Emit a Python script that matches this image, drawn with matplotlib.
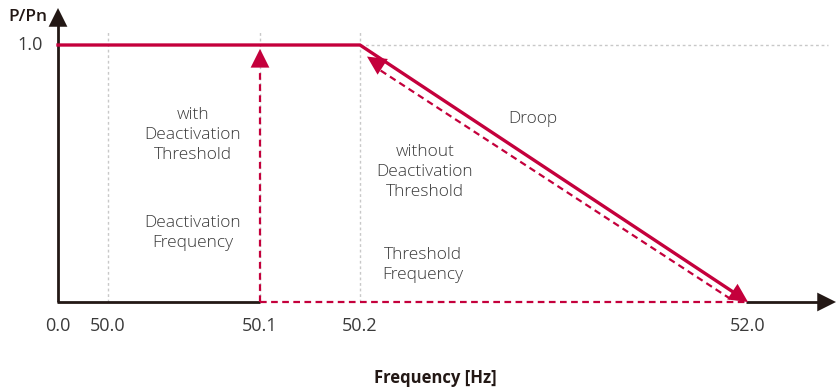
import matplotlib.pyplot as plt
import numpy as np

# frequency ticks (axis is not to scale, so each tick gets a layout slot)
freq_ticks = [0.0, 50.0, 50.1, 50.2, 52.0]
tick_labels = ['0.0', '50.0', '50.1', '50.2', '52.0']
tick_slots = [0.0, 1.0, 4.04, 6.04, 13.8]

# power curve P/Pn vs frequency
curve_freq = [0.0, 50.2, 52.0]
curve_p = [1.0, 1.0, 0.0]

deact_freq = 50.1
threshold_freq = 50.2
end_freq = 52.0

RED = '#C4003C'
TXT = '#3a3a3a'
GRID = '#c8c8c8'
BLK = '#231815'

plt.rcParams['font.family'] = ['Open Sans', 'DejaVu Sans']


def fx(f):
    return np.interp(f, freq_ticks, tick_slots)


def head(ax, start, tip, color, scale=15):
    ax.annotate('', xy=tip, xytext=start,
                arrowprops=dict(arrowstyle='-|>,head_length=0.9,head_width=0.45',
                                color=color, lw=0, shrinkA=0, shrinkB=0,
                                mutation_scale=scale), zorder=6, annotation_clip=False)


fig = plt.figure(figsize=(8.38, 3.92), dpi=100)
ax = fig.add_axes([58 / 838, 90 / 392, 778 / 838, 294 / 392])
ax.set_xlim(0, 15.56)
ax.set_ylim(0, 1.144)
ax.axis('off')
ax_scale = np.array([50.0, 257.0])  # pixels per data unit
line_kw = dict(clip_on=False, solid_capstyle='butt')

# grey dotted guides
for f in [50.0, 50.1, 50.2]:
    ax.plot([fx(f), fx(f)], [0, 1.05], color=GRID, lw=1, ls=(0, (2, 2)), zorder=1)
ax.plot([fx(50.2), 15.4], [1.0, 1.0], color=GRID, lw=1, ls=(0, (2, 2)), zorder=1)

# axes with arrows (baseline interrupted by the red dashed segment)
ax.plot([-0.02, fx(deact_freq)], [0, 0], color=BLK, lw=2, zorder=3, **line_kw)
ax.plot([fx(end_freq) - 0.05, 15.3], [0, 0], color=BLK, lw=2, zorder=3, **line_kw)
ax.plot([0, 0], [0, 1.1], color=BLK, lw=2, zorder=3, **line_kw)
head(ax, (15.1, 0), (15.56, 0), BLK, 15)
head(ax, (0, 1.06), (0, 1.144), BLK, 15)

# main droop curve
cx = fx(curve_freq)
ax.plot(cx[:-1].tolist() + [cx[-1] - 0.15], curve_p[:-1] + [0.02],
        color=RED, lw=2.4, zorder=5, solid_joinstyle='miter', clip_on=False)
d = np.array([cx[-1] - cx[-2], curve_p[-1] - curve_p[-2]]) * ax_scale
d = d / np.hypot(*d)
tip = np.array([cx[-1], 0.0])
head(ax, tuple(tip - d * 14 / ax_scale), tuple(tip), RED)

# dashed: with deactivation threshold (vertical at 50.1)
ax.plot([fx(deact_freq), fx(deact_freq)], [0, 0.9], color=RED, lw=1.6,
        ls=(0, (3, 2)), zorder=4, clip_on=False)
head(ax, (fx(deact_freq), 0.9), (fx(deact_freq), 0.985), RED)

# dashed baseline from 50.1 to 52.0
ax.plot([fx(deact_freq), fx(end_freq)], [0, 0], color=RED, lw=1.6,
        ls=(0, (3, 2)), zorder=4, clip_on=False)

# dashed: without deactivation threshold (back along the droop)
x0, y0 = fx(end_freq) - 0.35, 0.012
x1, y1 = fx(threshold_freq) + 0.3, 0.915
ax.plot([x0, x1], [y0, y1], color=RED, lw=1.6, ls=(0, (3, 2)), zorder=4)
dp = np.array([x1 - x0, y1 - y0]) * ax_scale
dp = dp / np.hypot(*dp)
tip = np.array([fx(threshold_freq) + 0.14, 0.955])
head(ax, tuple(tip - dp * 14 / ax_scale), tuple(tip), RED)

# tick labels
for f, lab in zip(freq_ticks, tick_labels):
    ax.text(fx(f), -0.095, lab, ha='center', va='center', fontsize=13, color=TXT)
ax.text(-0.3, 1.0, '1.0', ha='right', va='center', fontsize=13, color=TXT)
ax.text(-0.22, 1.11, 'P/Pn', ha='right', va='center', fontsize=12.5,
        color=BLK, fontweight='semibold')
fig.text(435 / 838, 1 - 378 / 392, 'Frequency [Hz]', ha='center', va='center',
         fontsize=12, fontweight='bold', color=BLK)

# annotations
kw = dict(ha='center', va='center', fontsize=12.5, color=TXT, linespacing=1.35,
          fontweight='light')
ax.text(2.7, 0.65, 'with\nDeactivation\nThreshold', **kw)
ax.text(2.7, 0.27, 'Deactivation\nFrequency', **kw)
ax.text(7.34, 0.506, 'without\nDeactivation\nThreshold', **kw)
ax.text(7.3, 0.144, 'Threshold\nFrequency', **kw)
ax.text(9.5, 0.712, 'Droop', **kw)

plt.savefig('out.png', dpi=100)
